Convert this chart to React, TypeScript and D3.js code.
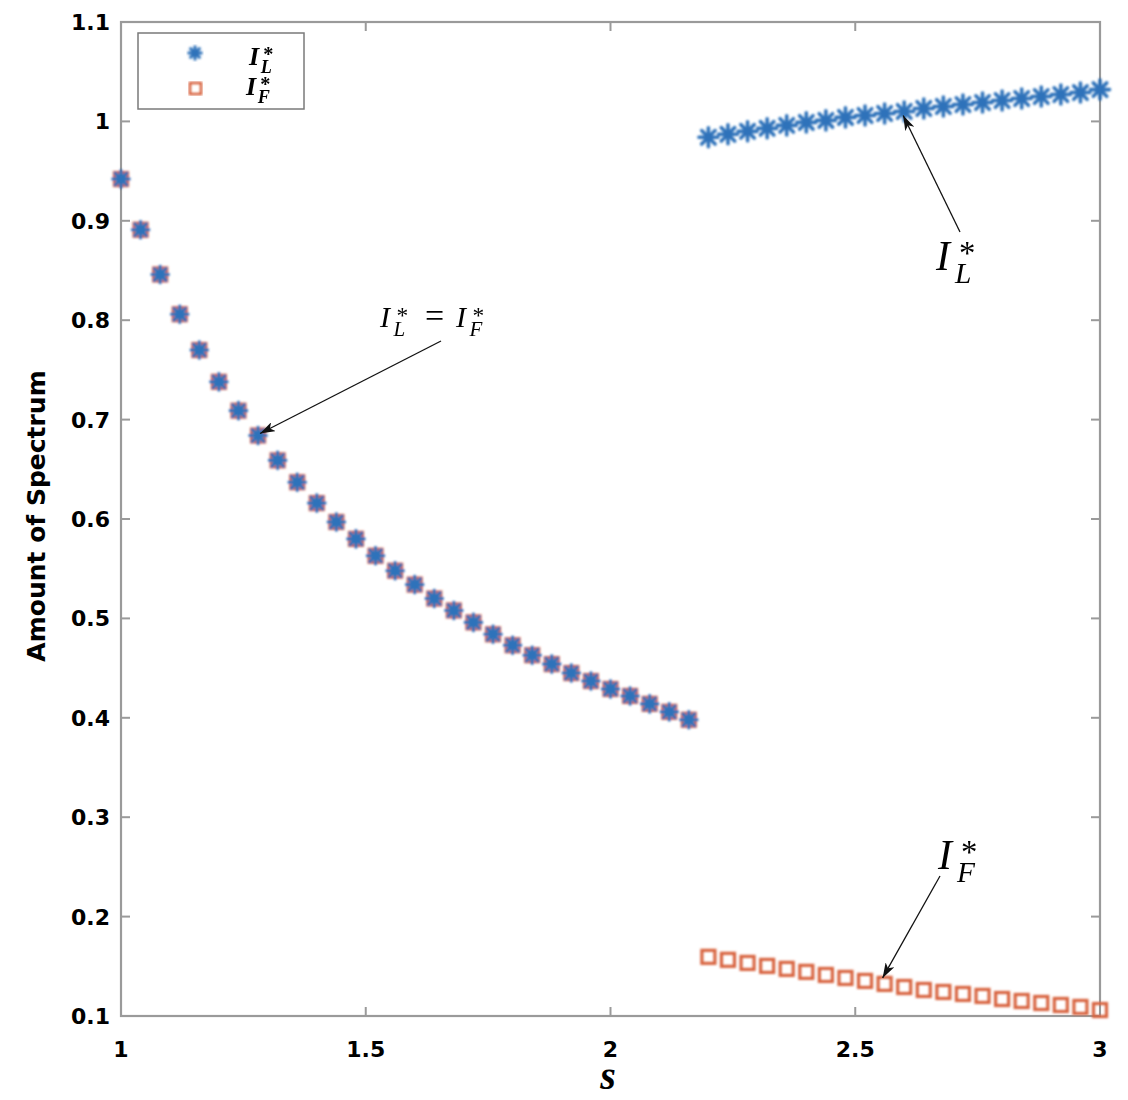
import React, { useEffect, useRef } from "react";
import * as d3 from "d3";

// s values for the branch where both equilibria coincide, and for the split branch
const sShared = [
  1.0, 1.04, 1.08, 1.12, 1.16, 1.2, 1.24, 1.28, 1.32, 1.36, 1.4, 1.44, 1.48, 1.52, 1.56,
  1.6, 1.64, 1.68, 1.72, 1.76, 1.8, 1.84, 1.88, 1.92, 1.96, 2.0, 2.04, 2.08, 2.12, 2.16,
];
const sharedValues = [
  0.942, 0.891, 0.846, 0.806, 0.770, 0.738, 0.709, 0.684, 0.659, 0.637, 0.616, 0.597,
  0.580, 0.563, 0.548, 0.534, 0.520, 0.508, 0.496, 0.484, 0.473, 0.463, 0.454, 0.445,
  0.437, 0.429, 0.422, 0.414, 0.406, 0.398,
];
const sSplit = [
  2.2, 2.24, 2.28, 2.32, 2.36, 2.4, 2.44, 2.48, 2.52, 2.56, 2.6, 2.64, 2.68, 2.72, 2.76,
  2.8, 2.84, 2.88, 2.92, 2.96, 3.0,
];
const leaderValues = [
  0.984, 0.987, 0.99, 0.993, 0.996, 0.999, 1.001, 1.004, 1.006, 1.008, 1.01, 1.013,
  1.015, 1.017, 1.019, 1.021, 1.023, 1.025, 1.027, 1.029, 1.032,
];
const followerValues = [
  0.1595, 0.1565, 0.1534, 0.1504, 0.1474, 0.1444, 0.1413, 0.1383, 0.1353, 0.1323,
  0.1292, 0.1262, 0.1242, 0.1222, 0.1202, 0.1171, 0.1151, 0.1131, 0.1111, 0.1091, 0.106,
];
const xTicks = [1, 1.5, 2, 2.5, 3];
const yTicks = [0.1, 0.2, 0.3, 0.4, 0.5, 0.6, 0.7, 0.8, 0.9, 1, 1.1];

const BLUE = "#2f72ba";
const ORANGE = "#d8643f";
const AXIS = "#9a9a9a";
const MATH = "'Liberation Serif', 'DejaVu Serif', serif";
const SANS = "'DejaVu Sans', 'Liberation Sans', sans-serif";

// eight-armed asterisk marker
const starPath = (r: number) => {
  let p = "";
  for (let k = 0; k < 4; k++) {
    const a = (k * Math.PI) / 4;
    const dx = r * Math.cos(a);
    const dy = r * Math.sin(a);
    p += `M${-dx},${-dy}L${dx},${dy}`;
  }
  return p;
};

function App() {
  const ref = useRef<SVGSVGElement>(null);

  useEffect(() => {
    const svg = d3.select(ref.current);
    svg.selectAll("*").remove();
    const margin = { left: 121, top: 22, right: 28, bottom: 85 };
    const width = 1128;
    const height = 1100;
    const x = d3.scaleLinear().domain([1, 3]).range([margin.left, width - margin.right]);
    const y = d3.scaleLinear().domain([0.1, 1.1]).range([height - margin.bottom + 1, margin.top]);

    const defs = svg.append("defs");
    defs
      .append("filter")
      .attr("id", "soft")
      .append("feGaussianBlur")
      .attr("stdDeviation", 0.8);
    defs
      .append("marker")
      .attr("id", "head")
      .attr("viewBox", "0 -5 15 10")
      .attr("refX", 15)
      .attr("refY", 0)
      .attr("markerWidth", 15)
      .attr("markerHeight", 10)
      .attr("markerUnits", "userSpaceOnUse")
      .attr("orient", "auto")
      .append("path")
      .attr("d", "M0,-5L15,0L0,5L4,0Z")
      .attr("fill", "#111");

    const x0 = x(1);
    const x1 = x(3);
    const y0 = y(0.1);
    const y1 = y(1.1);

    // axes box
    const axes = svg.append("g");
    axes
      .append("rect")
      .attr("x", x0)
      .attr("y", y1)
      .attr("width", x1 - x0)
      .attr("height", y0 - y1)
      .attr("fill", "none")
      .attr("stroke", AXIS)
      .attr("stroke-width", 2.2);

    const tickLen = 9;
    xTicks.forEach((t) => {
      axes.append("line").attr("x1", x(t)).attr("x2", x(t)).attr("y1", y0).attr("y2", y0 - tickLen)
        .attr("stroke", AXIS).attr("stroke-width", 2);
      axes.append("line").attr("x1", x(t)).attr("x2", x(t)).attr("y1", y1).attr("y2", y1 + tickLen)
        .attr("stroke", AXIS).attr("stroke-width", 2);
      axes.append("text").attr("x", x(t)).attr("y", y0 + 41).attr("text-anchor", "middle")
        .attr("font-family", SANS).attr("font-weight", "bold").attr("font-size", 22)
        .attr("fill", "#000").text(String(t));
    });
    yTicks.forEach((t) => {
      axes.append("line").attr("x1", x0).attr("x2", x0 + tickLen).attr("y1", y(t)).attr("y2", y(t))
        .attr("stroke", AXIS).attr("stroke-width", 2);
      axes.append("line").attr("x1", x1).attr("x2", x1 - tickLen).attr("y1", y(t)).attr("y2", y(t))
        .attr("stroke", AXIS).attr("stroke-width", 2);
      axes.append("text").attr("x", x0 - 11).attr("y", y(t) + 8).attr("text-anchor", "end")
        .attr("font-family", SANS).attr("font-weight", "bold").attr("font-size", 22)
        .attr("fill", "#000").text(t === 1 ? "1" : t.toFixed(1));
    });

    svg.append("text").attr("x", x(1.995)).attr("y", 1089).attr("text-anchor", "middle")
      .attr("font-family", MATH).attr("font-style", "italic").attr("font-weight", "bold")
      .attr("font-size", 40).attr("fill", "#000").text("s");
    svg.append("text").attr("transform", `translate(45,${y(0.6) - 3}) rotate(-90)`)
      .attr("text-anchor", "middle").attr("font-family", SANS).attr("font-weight", "bold")
      .attr("font-size", 25).attr("fill", "#000").text("Amount of Spectrum");

    const marks = svg.append("g").attr("filter", "url(#soft)");
    const squares = (xs: number[], vs: number[]) =>
      marks.append("g").selectAll("rect").data(vs).enter().append("rect")
        .attr("x", (d, i) => x(xs[i]) - 6.5).attr("y", (d) => y(d) - 6.5)
        .attr("width", 13).attr("height", 13)
        .attr("fill", "none").attr("stroke", ORANGE).attr("stroke-width", 3.2);
    const stars = (xs: number[], vs: number[], r: number) =>
      marks.append("g").selectAll("path").data(vs).enter().append("path")
        .attr("transform", (d, i) => `translate(${x(xs[i])},${y(d)})`)
        .attr("d", starPath(r)).attr("stroke", BLUE).attr("stroke-width", 3.6)
        .attr("stroke-linecap", "round");

    squares(sShared, sharedValues);
    stars(sShared, sharedValues, 8);
    stars(sSplit, leaderValues, 9.5);
    squares(sSplit, followerValues);

    // I with a starred superscript and a subscript, laid out like TeX
    const mathLabel = (g: any, px: number, py: number, sub: string, size: number, bold = false) => {
      const t = g.append("text").attr("font-family", MATH).attr("font-style", "italic")
        .attr("font-weight", bold ? "bold" : "normal").attr("fill", "#000");
      t.append("tspan").attr("x", px).attr("y", py).attr("font-size", size).text("I");
      t.append("tspan").attr("x", px + size * 0.55).attr("y", py - size * 0.14)
        .attr("font-size", size * 0.78).attr("font-style", "normal").text("*");
      t.append("tspan").attr("x", px + size * 0.45).attr("y", py + size * 0.3)
        .attr("font-size", size * 0.7).text(sub);
      return t;
    };

    // legend
    const leg = svg.append("g");
    leg.append("rect").attr("x", 138).attr("y", 33).attr("width", 166).attr("height", 76)
      .attr("fill", "#fff").attr("stroke", "#7a7a7a").attr("stroke-width", 1.5);
    leg.append("path").attr("transform", "translate(195,53)").attr("d", starPath(7.5))
      .attr("stroke", BLUE).attr("stroke-width", 3).attr("filter", "url(#soft)");
    leg.append("rect").attr("x", 190).attr("y", 83).attr("width", 11).attr("height", 11)
      .attr("fill", "none").attr("stroke", ORANGE).attr("stroke-width", 2.6)
      .attr("filter", "url(#soft)");
    mathLabel(leg, 249, 65, "L", 26, true);
    mathLabel(leg, 246, 95, "F", 26, true);

    // annotations
    const ann = svg.append("g");
    const arrow = (ax: number, ay: number, bx: number, by: number) =>
      ann.append("line").attr("x1", ax).attr("y1", ay).attr("x2", bx).attr("y2", by)
        .attr("stroke", "#111").attr("stroke-width", 1.3).attr("marker-end", "url(#head)");

    const eq = ann.append("g");
    mathLabel(eq, 380, 327, "L", 30);
    eq.append("text").attr("x", 425).attr("y", 327).attr("font-family", MATH)
      .attr("font-size", 34).attr("fill", "#000").text("=");
    mathLabel(eq, 456, 327, "F", 30);
    arrow(441, 341, x(1.28) + 2, y(0.684) - 2);

    mathLabel(ann, 936, 270, "L", 42);
    arrow(960, 232, x(2.6) - 1, y(1.01) + 4);

    mathLabel(ann, 938, 869, "F", 42);
    arrow(940, 876, x(2.56) - 2, y(0.1323) - 6);
  }, []);

  return (
    <svg
      ref={ref}
      width={1128}
      height={1100}
      style={{ position: "absolute", left: 0, top: 0, background: "#fff" }}
    />
  );
}

export default App;
